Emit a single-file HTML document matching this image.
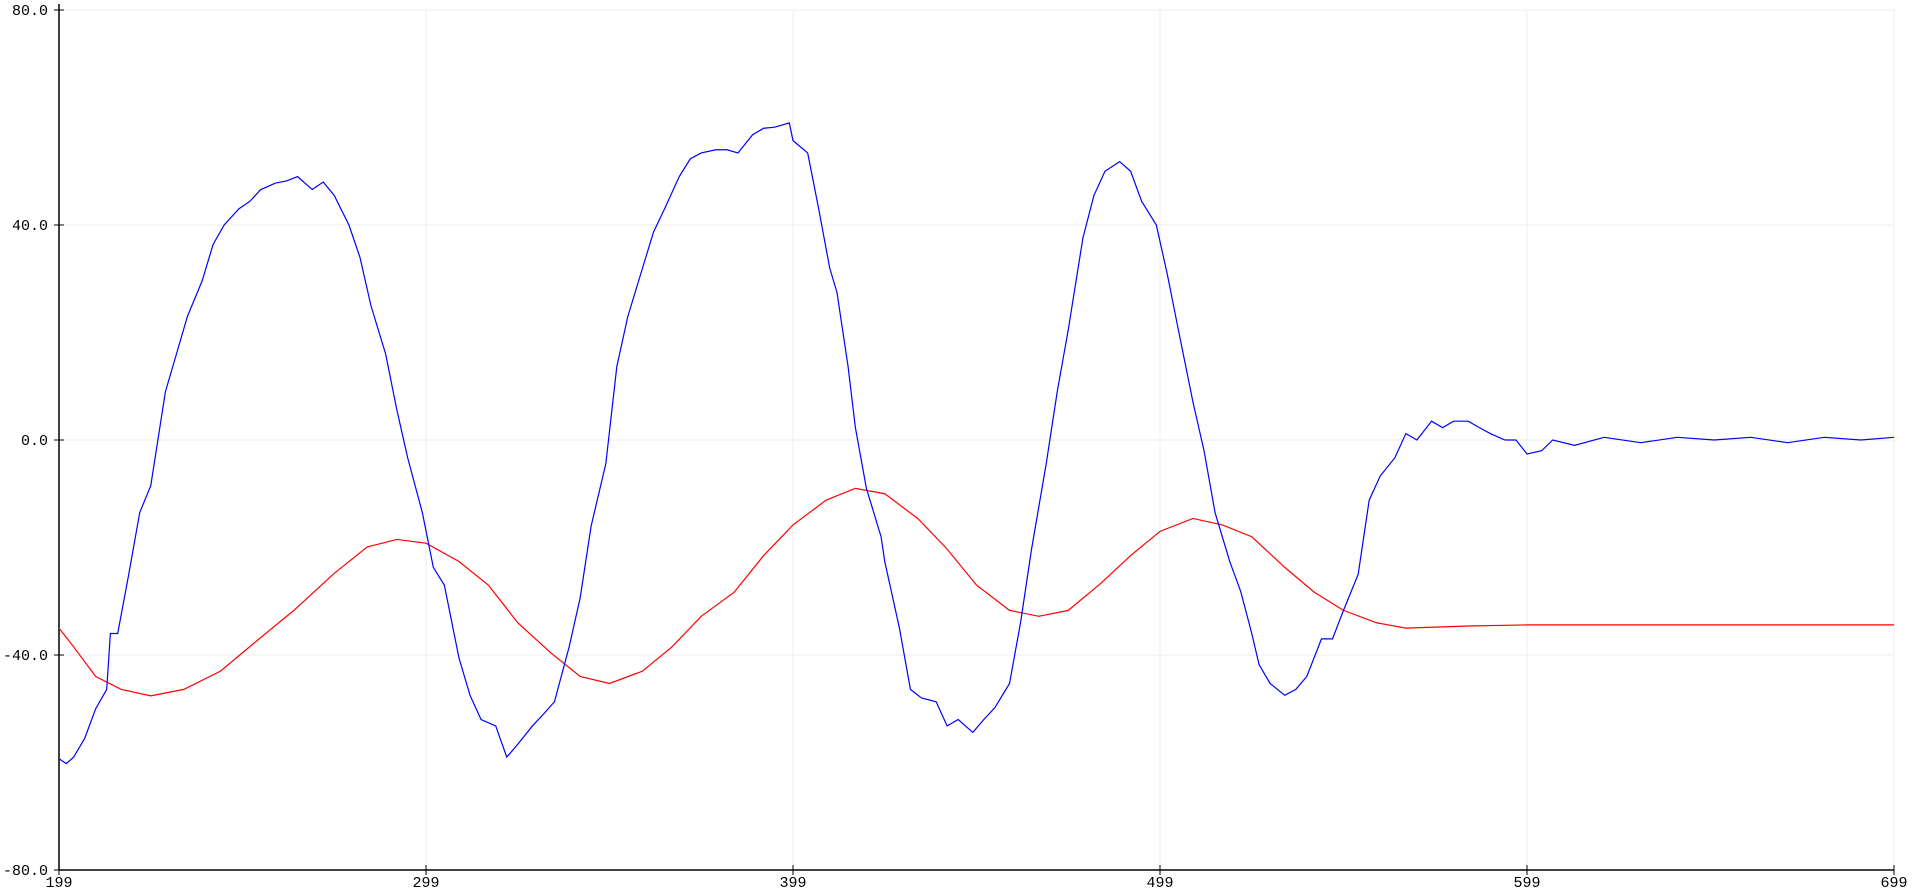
<!DOCTYPE html>
<html><head><meta charset="utf-8"><style>
body{margin:0;background:#fff;}
svg{display:block;font-family:"Liberation Mono","DejaVu Sans Mono",monospace;font-size:15px;}
</style></head><body>
<svg id="chart" width="1914" height="893" viewBox="0 0 1914 893"></svg>
<script>
const xTicks=[199,299,399,499,599,699];
const yTicks=[-80,-40,0,40,80];
const yTickLabels=["-80.0","-40.0","0.0","40.0","80.0"];
const blueX=[199,201,203,206,209,212,213,215,218,221,224,228,231,234,238,241,244,248,251,254,258,261,264,268,271,274,278,281,284,288,291,294,298,301,304,308,311,314,318,321,324,328,331,334,338,341,344,348,351,354,358,361,364,368,371,374,378,381,384,388,391,394,398,399,403,406,409,411,414,416,419,423,424,428,431,434,438,441,444,448,451,454,458,461,464,468,471,474,478,481,484,488,491,494,498,501,504,508,511,514,518,521,524,526,529,533,536,539,543,546,549,553,556,559,563,566,569,573,576,579,583,586,589,593,596,599,603,606,612,620,630,640,650,660,670,680,690,699];
const blueY=[-59.3,-60.2,-59,-55.5,-50,-46.4,-36,-36,-25,-13.5,-8.5,9,16,23,29.6,36.4,40,43,44.4,46.6,47.8,48.2,49,46.6,48,45.5,40,34,25,16,5.8,-3.3,-13.5,-23.7,-27,-40.6,-47.5,-52,-53.2,-59,-56.6,-53.2,-51,-48.7,-38.5,-29.4,-16,-4.4,13.7,23,32,38.7,43,49,52.3,53.4,54,54,53.4,56.8,58,58.2,59,55.7,53.4,43,32,27.4,13.7,2.3,-9,-18,-22.6,-35,-46.4,-48,-48.7,-53.2,-52,-54.4,-52,-49.8,-45.3,-34,-20.3,-4.4,9,20.5,37.6,45.5,50,51.8,50,44.4,40,30.8,20.5,7,-2,-13.5,-22.6,-28.2,-36,-41.8,-45.3,-47.5,-46.4,-44,-37,-37,-31.7,-25,-11.2,-6.7,-3.3,1.2,0,3.5,2.3,3.5,3.5,2.3,1.2,0,0,-2.6,-2,0,-1,0.5,-0.5,0.5,0,0.5,-0.5,0.5,0,0.5];
const redX=[199,203,209,216,224,233,243,253,263,274,283,291,299,308,316,324,333,341,349,358,366,374,383,391,399,408,416,424,433,441,449,458,466,474,483,491,499,508,516,524,533,541,549,558,566,583,599,699];
const redY=[-35,-38.5,-44,-46.4,-47.6,-46.4,-43,-37.3,-31.7,-24.8,-19.9,-18.5,-19.2,-22.6,-27,-34,-39.6,-44,-45.3,-43,-38.5,-32.8,-28.3,-21.5,-15.8,-11.2,-9,-10,-14.6,-20.3,-27,-31.7,-32.8,-31.7,-26.6,-21.5,-17,-14.6,-15.8,-18,-23.7,-28.3,-31.7,-34,-35,-34.6,-34.4,-34.4];
const L=59,R=1894,T=10,B=870;
const sx=v=>L+(v-199)/(699-199)*(R-L);
const sy=v=>B-(v+80)/160*(B-T);
const svg=document.getElementById('chart');
const NS='http://www.w3.org/2000/svg';
function mk(t,a){const e=document.createElementNS(NS,t);for(const k in a)e.setAttribute(k,a[k]);svg.appendChild(e);return e;}
xTicks.forEach((t,i)=>{if(i>0){const g=mk('line',{x1:sx(t),x2:sx(t),y1:T,y2:B,stroke:'#ececec'});

}
const tk=mk('line',{x1:sx(t),x2:sx(t),y1:B-5,y2:B+5,stroke:'#000'});


const tx=mk('text',{x:sx(t),y:B+17,'text-anchor':'middle',fill:'#000'});tx.textContent=t;

});
yTicks.forEach((t,i)=>{if(t!==-80){const g=mk('line',{x1:L,x2:R,y1:sy(t),y2:sy(t),stroke:'#ececec'});

}
const tk=mk('line',{x1:L-5,x2:L+5,y1:sy(t),y2:sy(t),stroke:'#000'});


const tx=mk('text',{x:L-11,y:sy(t)+5,'text-anchor':'end',fill:'#000'});tx.textContent=yTickLabels[i];

});
const ya=mk('line',{x1:L,x2:L,y1:T-6,y2:B,stroke:'#000','stroke-width':1.5});


const xa=mk('line',{x1:L,x2:R,y1:B,y2:B,stroke:'#000','stroke-width':1.5});


function line(xs,ys,c,n){const p=mk('polyline',{points:xs.map((x,i)=>sx(x)+','+sy(ys[i])).join(' '),fill:'none',stroke:c,'stroke-width':1.2});

}
line(redX,redY,'#ff0000','red-series-line');
line(blueX,blueY,'#0000ff','blue-series-line');
</script>
</body></html>
